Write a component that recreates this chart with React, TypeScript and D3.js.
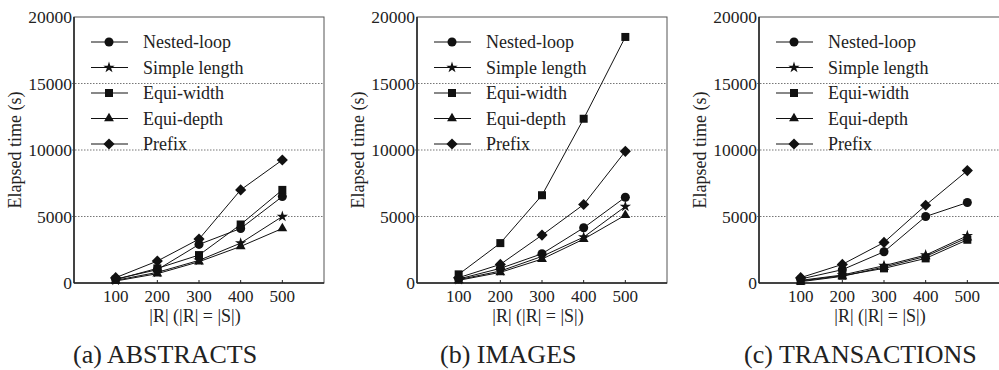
import React, { useEffect, useRef } from 'react';
import * as d3 from 'd3';

const sizes = [100, 200, 300, 400, 500];
const seriesNames = ['Nested-loop', 'Simple length', 'Equi-width', 'Equi-depth', 'Prefix'];
const yTicks = [0, 5000, 10000, 15000, 20000];
const xTicks = [100, 200, 300, 400, 500];

// elapsed time (s) per series
const abstractsValues = [
  [300, 1000, 2900, 4100, 6500],
  [200, 800, 1700, 3000, 5000],
  [250, 1100, 2100, 4400, 7000],
  [150, 700, 1600, 2750, 4100],
  [400, 1650, 3300, 7000, 9250],
];
const imagesValues = [
  [300, 1100, 2200, 4150, 6450],
  [250, 900, 2000, 3450, 5750],
  [650, 3000, 6600, 12350, 18500],
  [200, 800, 1800, 3300, 5100],
  [400, 1400, 3600, 5900, 9900],
];
const transactionsValues = [
  [300, 1000, 2350, 5000, 6050],
  [200, 600, 1300, 2100, 3550],
  [150, 550, 1100, 1850, 3250],
  [100, 500, 1200, 2000, 3400],
  [400, 1400, 3050, 5850, 8450],
];

const panels = [
  { title: '(a) ABSTRACTS', values: abstractsValues, left: 74, titleX: 73 },
  { title: '(b) IMAGES', values: imagesValues, left: 417, titleX: 440 },
  { title: '(c) TRANSACTIONS', values: transactionsValues, left: 759, titleX: 744 },
];

const font = "'Liberation Serif', 'DejaVu Serif', serif";

const markerPath = (i: number) => {
  const types = [d3.symbolCircle, d3.symbolStar, d3.symbolSquare, d3.symbolTriangle, d3.symbolSquare];
  const areas = [64, 40, 64, 42, 62];
  return d3.symbol().type(types[i]).size(areas[i])() as string;
};

const App: React.FC = () => {
  const width = 999;
  const height = 370;
  const svgRef = useRef<SVGSVGElement>(null);

  useEffect(() => {
    if (!svgRef.current) return;
    const svg = d3.select(svgRef.current);
    svg.selectAll('*').remove();

    const plotW = 250;
    const top = 17;
    const bottom = 283;

    const y = d3.scaleLinear().domain([0, 20000]).range([bottom, top]);

    panels.forEach((p) => {
      const x = d3.scaleLinear().domain([0, 600]).range([p.left, p.left + plotW]);
      const g = svg.append('g').style('font-family', font);

      // dotted grid
      [5000, 10000, 15000].forEach((v) => {
        g.append('line')
          .attr('x1', p.left - 2).attr('x2', p.left + plotW)
          .attr('y1', y(v)).attr('y2', y(v))
          .attr('stroke', '#777').attr('stroke-width', 1)
          .attr('stroke-dasharray', '1.5,1.5');
      });

      // frame
      g.append('rect')
        .attr('x', p.left).attr('y', top)
        .attr('width', plotW).attr('height', bottom - top)
        .attr('fill', 'none').attr('stroke', '#555').attr('stroke-width', 1);
      g.append('line')
        .attr('x1', p.left).attr('x2', p.left).attr('y1', top).attr('y2', bottom)
        .attr('stroke', '#222').attr('stroke-width', 1.5);
      g.append('line')
        .attr('x1', p.left).attr('x2', p.left + plotW).attr('y1', bottom).attr('y2', bottom)
        .attr('stroke', '#222').attr('stroke-width', 1.5);

      // x ticks (inward)
      xTicks.forEach((t) => {
        g.append('line')
          .attr('x1', x(t)).attr('x2', x(t)).attr('y1', bottom).attr('y2', bottom - 3)
          .attr('stroke', '#222');
        g.append('text')
          .attr('x', x(t)).attr('y', 302)
          .attr('text-anchor', 'middle')
          .style('font-size', '17px').attr('fill', '#222')
          .text(t.toString());
      });

      yTicks.forEach((t) => {
        g.append('text')
          .attr('x', p.left - 2).attr('y', y(t) + 6)
          .attr('text-anchor', 'end')
          .style('font-size', '17.5px').attr('fill', '#222')
          .text(t.toString());
      });

      g.append('text')
        .attr('transform', `translate(${p.left - 53},${(top + bottom) / 2}) rotate(-90)`)
        .attr('text-anchor', 'middle')
        .style('font-size', '18px').attr('fill', '#222')
        .text('Elapsed time (s)');

      g.append('text')
        .attr('x', p.left + 121).attr('y', 322)
        .attr('text-anchor', 'middle')
        .style('font-size', '18px').attr('fill', '#222')
        .text('|R| (|R| = |S|)');

      g.append('text')
        .attr('x', p.titleX).attr('y', 363)
        .style('font-size', '26px').attr('fill', '#222')
        .text(p.title);

      // series
      const line = d3.line<number>()
        .x((_, i) => x(sizes[i]))
        .y((d) => y(d));

      p.values.forEach((vals) => {
        g.append('path')
          .attr('d', line(vals) as string)
          .attr('fill', 'none').attr('stroke', '#111').attr('stroke-width', 1);
      });
      p.values.forEach((vals, si) => {
        vals.forEach((v, i) => {
          g.append('path')
            .attr('d', markerPath(si))
            .attr('transform', `translate(${x(sizes[i])},${y(v)})${si === 4 ? ' rotate(45)' : ''}`)
            .attr('fill', '#111');
        });
      });

      // legend
      seriesNames.forEach((name, i) => {
        const ly = 42 + i * 25.5;
        g.append('line')
          .attr('x1', p.left + 17).attr('x2', p.left + 54)
          .attr('y1', ly).attr('y2', ly)
          .attr('stroke', i === 2 ? '#888' : '#111')
          .attr('stroke-width', i === 2 ? 2 : 1);
        g.append('path')
          .attr('d', markerPath(i))
          .attr('transform', `translate(${p.left + 35},${ly})${i === 4 ? ' rotate(45)' : ''}`)
          .attr('fill', '#111');
        g.append('text')
          .attr('x', p.left + 69).attr('y', ly + 6)
          .style('font-size', '18px').attr('fill', '#222')
          .text(name);
      });
    });
  }, []);

  return (
    <div style={{ position: 'absolute', left: 0, top: 0 }}>
      <svg ref={svgRef} width={width} height={height} style={{ display: 'block', background: '#fff' }} />
    </div>
  );
};

export default App;
